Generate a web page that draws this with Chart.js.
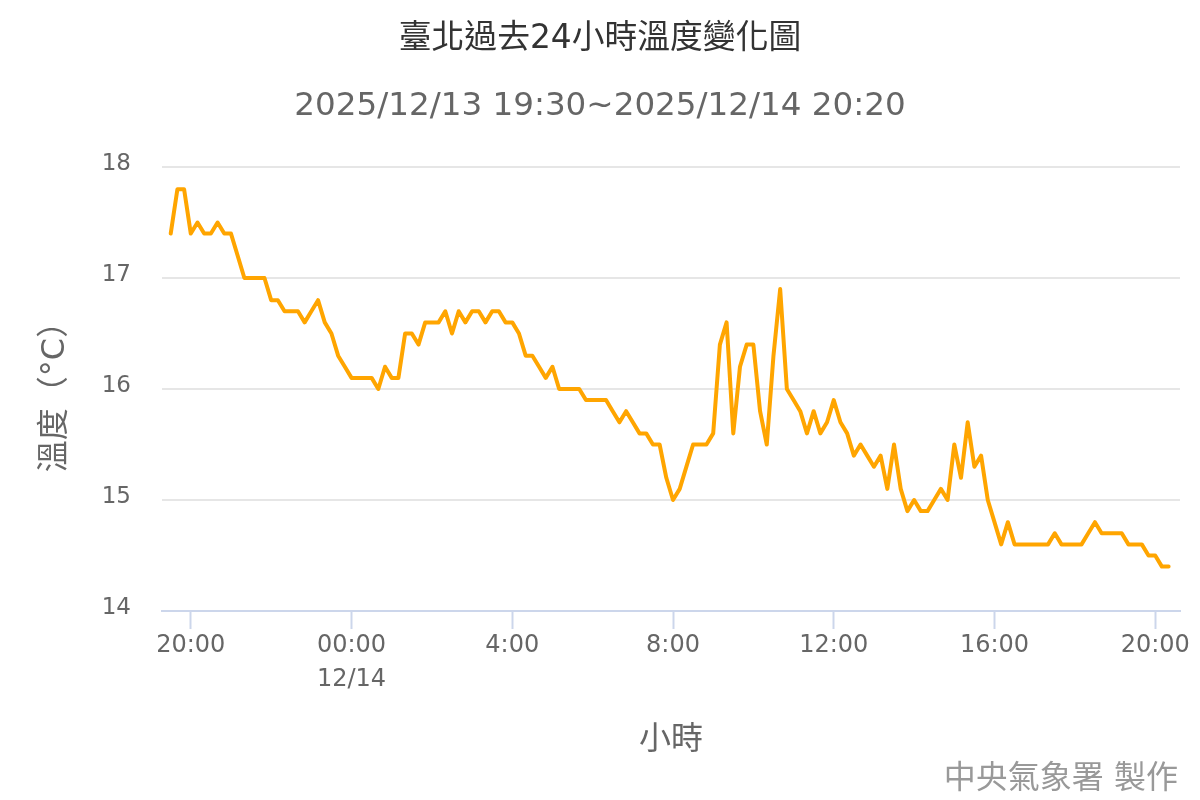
<!DOCTYPE html>
<html>
<head>
<meta charset="utf-8">
<script src="https://cdn.jsdelivr.net/npm/chart.js@4/dist/chart.umd.min.js"></script>
<style>
  html, body { margin: 0; padding: 0; background: #fff; }
  #wrap { width: 1200px; height: 800px; }
</style>
</head>
<body>
<div id="wrap"><canvas id="tempChart" width="1200" height="800"></canvas></div>
<script>
// 臺北 10-minute temperatures, 2025/12/13 19:30 -> 2025/12/14 20:20
var stepMinutes = 10;
var temps = [
	17.4, 17.8, 17.8, 17.4, 17.5, 17.4, 17.4, 17.5, 17.4, 17.4,
	17.2, 17.0, 17.0, 17.0, 17.0, 16.8, 16.8, 16.7, 16.7, 16.7,
	16.6, 16.7, 16.8, 16.6, 16.5, 16.3, 16.2, 16.1, 16.1, 16.1,
	16.1, 16.0, 16.2, 16.1, 16.1, 16.5, 16.5, 16.4, 16.6, 16.6,
	16.6, 16.7, 16.5, 16.7, 16.6, 16.7, 16.7, 16.6, 16.7, 16.7,
	16.6, 16.6, 16.5, 16.3, 16.3, 16.2, 16.1, 16.2, 16.0, 16.0,
	16.0, 16.0, 15.9, 15.9, 15.9, 15.9, 15.8, 15.7, 15.8, 15.7,
	15.6, 15.6, 15.5, 15.5, 15.2, 15.0, 15.1, 15.3, 15.5, 15.5,
	15.5, 15.6, 16.4, 16.6, 15.6, 16.2, 16.4, 16.4, 15.8, 15.5,
	16.3, 16.9, 16.0, 15.9, 15.8, 15.6, 15.8, 15.6, 15.7, 15.9,
	15.7, 15.6, 15.4, 15.5, 15.4, 15.3, 15.4, 15.1, 15.5, 15.1,
	14.9, 15.0, 14.9, 14.9, 15.0, 15.1, 15.0, 15.5, 15.2, 15.7,
	15.3, 15.4, 15.0, 14.8, 14.6, 14.8, 14.6, 14.6, 14.6, 14.6,
	14.6, 14.6, 14.7, 14.6, 14.6, 14.6, 14.6, 14.7, 14.8, 14.7,
	14.7, 14.7, 14.7, 14.6, 14.6, 14.6, 14.5, 14.5, 14.4, 14.4
];

// x ticks, minutes after 19:30
var tickMinutes = [30, 270, 510, 750, 990, 1230, 1470];
var tickLabels = ['20:00', ['00:00', '12/14'], '4:00', '8:00', '12:00', '16:00', '20:00'];
var yTicks = [14, 15, 16, 17, 18];

var titleText = '臺北過去24小時溫度變化圖';
var subtitleText = '2025/12/13 19:30~2025/12/14 20:20';
var creditText = '中央氣象署 製作';

var fam = "'DejaVu Sans', 'Noto Sans CJK TC', sans-serif";

var points = temps.map(function(t, i){ return {x: i * stepMinutes, y: t}; });

var credits = {
	id: 'credits',
	afterDraw: function(chart){
		var ctx = chart.ctx;
		ctx.save();
		ctx.font = '32px ' + fam;
		ctx.fillStyle = '#999999';
		ctx.textAlign = 'right';
		ctx.textBaseline = 'middle';
		ctx.fillText(creditText, 1178, 780);
		ctx.restore();
	}
};

var ctx = document.getElementById('tempChart');
var tempChart = new Chart(ctx, {
	type: 'line',
	data: {
		datasets: [{
			label: '溫度',
			data: points,
			borderColor: '#FFA500',
			backgroundColor: '#FFA500',
			borderWidth: 4,
			borderJoinStyle: 'round',
			borderCapStyle: 'round',
			pointRadius: 0,
			tension: 0,
			fill: false
		}]
	},
	options: {
		responsive: false,
		animation: false,
		layout: { padding: 0 },
		plugins: {
			legend: { display: false },
			tooltip: { enabled: false },
			title: {
				display: true,
				text: titleText,
				color: '#333333',
				font: { family: fam, size: 32.8, weight: 'normal' },
				padding: { top: 19.3, bottom: 0 }
			},
			subtitle: {
				display: true,
				text: subtitleText,
				color: '#666666',
				font: { family: fam, size: 32.6, weight: 'normal' },
				padding: { top: 28.8, bottom: 40.4 }
			}
		},
		scales: {
			x: {
				type: 'linear',
				min: -13,
				max: 1507,
				afterBuildTicks: function(scale){
					scale.ticks = tickMinutes.map(function(v){ return {value: v}; });
				},
				afterFit: function(scale){ scale.height = 189; },
				ticks: {
					autoSkip: false,
					maxRotation: 0,
					color: '#666666',
					font: { family: fam, size: 24, lineHeight: 1.45 },
					padding: -1,
					callback: function(value, index){ return tickLabels[index]; }
				},
				grid: {
					drawOnChartArea: false,
					drawTicks: true,
					tickLength: 18,
					tickWidth: 2,
					tickColor: '#ccd6eb',
					color: '#ccd6eb'
				},
				border: { display: true, color: '#ccd6eb', width: 2 },
				title: {
					display: true,
					text: '小時',
					color: '#666666',
					font: { family: fam, size: 32 },
					padding: { top: 0, bottom: 39.8 }
				}
			},
			y: {
				min: 14,
				max: 18,
				afterBuildTicks: function(scale){
					scale.ticks = yTicks.map(function(v){ return {value: v}; });
				},
				afterFit: function(scale){ scale.width = 162; },
				ticks: {
					color: '#666666',
					font: { family: fam, size: 23 },
					padding: 31,
					labelOffset: -3
				},
				grid: {
					drawTicks: false,
					lineWidth: 2,
					color: function(c){ return c.tick && c.tick.value === 14 ? 'rgba(0,0,0,0)' : '#e6e6e6'; }
				},
				border: { display: false },
				title: {
					display: true,
					text: '溫度（°C）',
					color: '#666666',
					font: { family: fam, size: 32 },
					padding: { top: 36.5, bottom: 0 }
				}
			},
			// empty strip on the right so the titles centre on the full width
			rightGap: {
				position: 'right',
				display: true,
				afterFit: function(scale){ scale.width = 20; },
				ticks: { display: false },
				grid: { display: false, drawTicks: false },
				border: { display: false }
			}
		}
	},
	plugins: [credits]
});
</script>
</body>
</html>
